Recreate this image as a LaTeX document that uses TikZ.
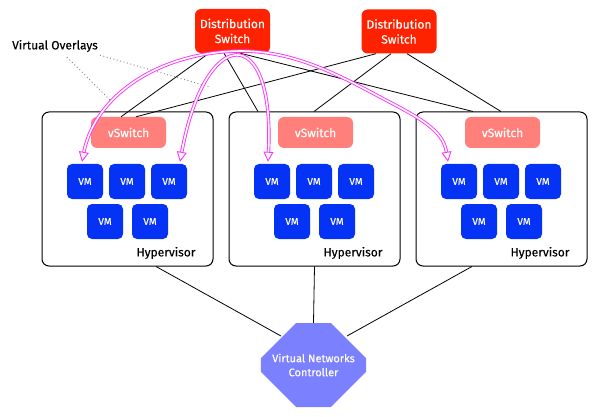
\documentclass[tikz,border=0pt]{standalone}
\usepackage{fontspec}
\setmainfont{Fira Sans}[FakeBold=0.15]
\newfontfamily\medfont{Fira Sans}[FakeBold=0.35]
\usetikzlibrary{arrows.meta,shapes.misc}
\definecolor{dsred}{HTML}{FF2200}
\definecolor{vsred}{HTML}{FF7F7A}
\definecolor{vmblue}{HTML}{0433F5}
\definecolor{ctrlblue}{HTML}{7B80FF}
\definecolor{ovl}{HTML}{FF33FF}
\begin{document}
\begin{tikzpicture}[x=1pt,y=-1pt,
  dswitch/.style={rectangle, rounded corners=6pt, fill=dsred, text=white, minimum width=75pt, minimum height=44pt, align=center, inner sep=0pt, font=\medfont\fontsize{12}{15}\selectfont},
  hyper/.style={draw=black, line width=1pt, rounded corners=7pt, minimum width=171pt, minimum height=154pt, inner sep=0pt},
  hyperlabel/.style={font=\fontsize{12}{14}\selectfont, inner sep=0pt},
  vsw/.style={rectangle, rounded corners=6pt, fill=vsred, text=white, minimum width=75pt, minimum height=31pt, inner sep=0pt, font=\medfont\fontsize{12}{14}\selectfont},
  vmbox/.style={rectangle, rounded corners=5pt, fill=vmblue, text=white, minimum width=36pt, minimum height=35pt, inner sep=0pt, font=\medfont\fontsize{10}{12}\selectfont},
  ctrlbox/.style={chamfered rectangle, chamfered rectangle xsep=28pt, chamfered rectangle ysep=24pt, fill=ctrlblue, text=white, minimum width=93pt, minimum height=84pt, align=center, inner sep=0pt, font=\medfont\fontsize{11}{14}\selectfont},
  link/.style={draw=black, line width=0.8pt},
  vovl/.style={draw=ovl, double=white, line width=0.9pt, double distance=1.6pt, {Triangle[open,length=10pt,width=10pt]}-{Triangle[open,length=10pt,width=10pt]}},
  dots/.style={draw=gray, line width=0.9pt, dash pattern=on 0.9pt off 2.6pt}
]
\fill[white] (0,0) rectangle (597,417);
\useasboundingbox (0,0) rectangle (597,417);

% hypervisor boxes
\foreach \i/\bx in {1/42,2/229,3/416}{
  \node[hyper] (b\i) at (\bx+85.5,189) {};
  \node[vsw] (vs\i) at (\bx+86.5,132.5) {vSwitch};
  \node[vmbox] (vm\i1) at (\bx+43,181.5) {VM};
  \node[vmbox] (vm\i2) at (\bx+85,181.5) {VM};
  \node[vmbox] (vm\i3) at (\bx+127,181.5) {VM};
  \node[vmbox] (vm\i4) at (\bx+63,221.5) {VM};
  \node[vmbox] (vm\i5) at (\bx+108,221.5) {VM};
  \node[hyperlabel] (h\i) at (\bx+124,253) {Hypervisor};
}

\node[dswitch] (ls) at (232.5,31) {Distribution\\Switch};
\node[dswitch] (rs) at (399,31.5) {Distribution\\Switch};
\node[ctrlbox] (ctrl) at (313.5,365) {Virtual Networks\\Controller};
\node[font=\fontsize{12}{14}\selectfont, inner sep=0pt] (vo) at (55,46) {Virtual Overlays};

% links
\draw[link] ([xshift=-23.5pt]ls.south) -- ([xshift=-7.5pt]vs1.north);
\draw[link] ([xshift=-23pt]rs.south) -- ([xshift=7.5pt]vs1.north);
\draw[link] ([xshift=-8.5pt]ls.south) -- ([xshift=-56.5pt]b2.north);
\draw[link] ([xshift=7.5pt]ls.south) -- ([xshift=-28.5pt]b3.north);
\draw[link] ([xshift=-8pt]rs.south) -- ([xshift=-0.5pt]b2.north);
\draw[link] ([xshift=8pt]rs.south) -- ([xshift=-0.5pt]b3.north);
\draw[link] ([xshift=28.5pt]b1.south) -- ([shift={(-32.5,-29)}]ctrl.center);
\draw[link] (b2.south) -- (ctrl.north);
\draw[link] ([xshift=-29.5pt]b3.south) -- ([shift={(33.5,-29)}]ctrl.center);

% dotted pointers
\coordinate (d1) at (110,100);
\coordinate (d2) at (210,87);
\draw[dots] ([shift={(12,5)}]vo.south) -- (d1);
\draw[dots] ([shift={(45,3)}]vo.south) -- (d2);

% virtual overlays
\draw[vovl] ([shift={(-3,-2)}]vm11.north) .. controls (95,95) and (160,52) .. (240,51)
  .. controls (290,51) and (330,70) .. (380,97)
  .. controls (420,118) and (443,130) .. ([shift={(-11,-2)}]vm31.north);
\draw[vovl] ([shift={(11,-2)}]vm13.north) .. controls (205,25) and (275,20) .. ([shift={(-4,-2)}]vm21.north);
\end{tikzpicture}
\end{document}
